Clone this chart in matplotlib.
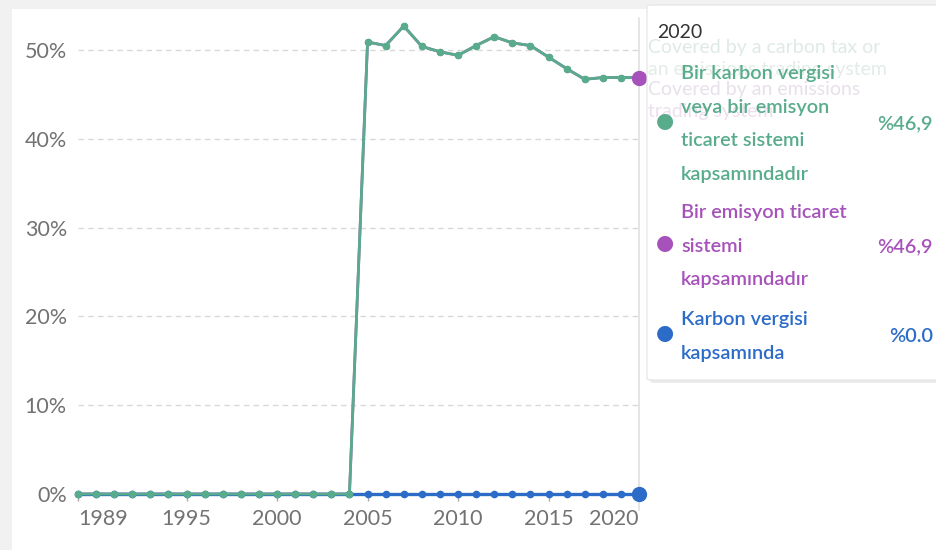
import matplotlib
matplotlib.use("Agg")
import matplotlib.pyplot as plt
from matplotlib.patches import Rectangle, FancyBboxPatch
from matplotlib.transforms import blended_transform_factory

plt.rcParams['font.family'] = ['Lato', 'DejaVu Sans']

years = [1989, 1990, 1991, 1992, 1993, 1994, 1995, 1996, 1997, 1998, 1999, 2000,
         2001, 2002, 2003, 2004, 2005, 2006, 2007, 2008, 2009, 2010, 2011, 2012,
         2013, 2014, 2015, 2016, 2017, 2018, 2019, 2020]
# covered by a carbon tax or an emissions trading system (%)
tax_or_ets = [0, 0, 0, 0, 0, 0, 0, 0, 0, 0, 0, 0, 0, 0, 0, 0,
              50.9, 50.5, 52.7, 50.4, 49.8, 49.4, 50.5, 51.5,
              50.8, 50.5, 49.2, 47.9, 46.7, 46.9, 46.9, 46.9]
# covered by an emissions trading system (%)
ets = [0, 0, 0, 0, 0, 0, 0, 0, 0, 0, 0, 0, 0, 0, 0, 0,
       50.9, 50.5, 52.7, 50.4, 49.8, 49.4, 50.5, 51.5,
       50.8, 50.5, 49.2, 47.9, 46.7, 46.9, 46.9, 46.9]
# covered by a carbon tax (%)
tax = [0, 0, 0, 0, 0, 0, 0, 0, 0, 0, 0, 0, 0, 0, 0, 0,
       0, 0, 0, 0, 0, 0, 0, 0, 0, 0, 0, 0, 0, 0, 0, 0]

xticks = [1989, 1995, 2000, 2005, 2010, 2015, 2020]
yticks = [0, 10, 20, 30, 40, 50]

green = '#58ac8c'
purple = '#a652ba'
blue = '#2c6cc8'
grey = '#727272'

W, H = 937, 550
fig = plt.figure(figsize=(W / 100, H / 100), dpi=100)
fig.patch.set_facecolor('#f1f1f1')
fig.patches.append(Rectangle((12 / W, 0), 1, 1 - 9 / H, transform=fig.transFigure,
                             facecolor='white', edgecolor='none', zorder=-10))

# axes placed so 1989 sits at x=78px, 2020 at x=639px, 0% at y=494px
ymax = 55
px_per_pct = 8.88
ax = fig.add_axes([78 / W, (H - 494) / H, (639 - 78) / W, ymax * px_per_pct / H])
ax.set_facecolor('none')
ax.set_xlim(1989, 2020)
ax.set_ylim(0, ymax)
for s in ax.spines.values():
    s.set_visible(False)

for y in yticks[1:]:
    ax.axhline(y, color='#d9d9d9', lw=1, ls=(0, (4, 3)), zorder=0)

# hover line
tr = blended_transform_factory(ax.transData, ax.transAxes)
ax.plot([2020, 2020], [-0.033, 0.975], transform=tr, color='#e0e0e0', lw=1.2,
        clip_on=False, zorder=1)

ax.plot(years, ets, color=purple, lw=2, marker='o', ms=4, clip_on=False, zorder=2)
ax.plot(years, tax, color=blue, lw=2.4, marker='o', ms=4.5, clip_on=False, zorder=3)
ax.plot(years, tax_or_ets, color=green, lw=2, marker='o', ms=4.5, clip_on=False, zorder=4)
ax.plot(years[-1], ets[-1], 'o', color=purple, ms=10, clip_on=False, zorder=5)
ax.plot(years[-1], tax[-1], 'o', color=blue, ms=10, clip_on=False, zorder=5)

ax.set_xticks(xticks)
ax.set_xticklabels([str(t) for t in xticks])
ax.set_yticks(yticks)
ax.set_yticklabels([f'{t}%' for t in yticks])
ax.tick_params(axis='x', length=5, width=1, color='#aaaaaa', pad=6,
               labelsize=15.5, labelcolor=grey)
ax.tick_params(axis='y', length=0, pad=8, labelsize=15.5, labelcolor=grey)
xl = ax.get_xticklabels()
xl[0].set_ha('left')
xl[-1].set_ha('right')


def fx(px):
    return px / W


def fy(py):
    return 1 - py / H


# tooltip box
fig.patches.append(FancyBboxPatch((fx(650), fy(383)), fx(300), (378 - 3) / H,
                                  boxstyle='round,pad=0,rounding_size=0.004',
                                  transform=fig.transFigure, facecolor='#000000',
                                  alpha=0.08, edgecolor='none', zorder=5))
fig.patches.append(FancyBboxPatch((fx(647), fy(380)), fx(300), (380 - 5) / H,
                                  boxstyle='round,pad=0,rounding_size=0.004',
                                  transform=fig.transFigure, facecolor='white',
                                  edgecolor='#e4e4e4', lw=0.8, zorder=6))

fig.text(fx(657), fy(33), '2020', fontsize=14, color='#333333', va='center', zorder=7)

ghost = [('Covered by a carbon tax or', 47, '#dfeae5'),
         ('an emissions trading system', 69, '#e4ece8'),
         ('Covered by an emissions', 90, '#e8e0ea'),
         ('trading system', 112, '#ecdfee')]
for txt, y, c in ghost:
    fig.text(fx(648), fy(y), txt, fontsize=14, color=c, va='center', zorder=7)

entries = [
    (['Bir karbon vergisi', 'veya bir emisyon', 'ticaret sistemi', 'kapsamındadır'],
     [73, 107, 141, 175], green, '%46,9'),
    (['Bir emisyon ticaret', 'sistemi', 'kapsamındadır'],
     [213, 246, 280], purple, '%46,9'),
    (['Karbon vergisi', 'kapsamında'],
     [320, 353], blue, '%0.0'),
]
for lines, ys, c, val in entries:
    mid = sum(ys) / len(ys)
    fig.text(fx(665), fy(mid - 3), '●', fontsize=15, color=c, ha='center',
             va='center', family=['DejaVu Sans'], zorder=7)
    for line, y in zip(lines, ys):
        fig.text(fx(681), fy(y), line, fontsize=14.3, color=c, fontweight='semibold',
                 va='center', zorder=7)
    fig.text(fx(933), fy(mid), val, fontsize=14.3, color=c, fontweight='semibold',
             ha='right', va='center', zorder=7)

fig.savefig('out.png', dpi=100, facecolor=fig.get_facecolor())
